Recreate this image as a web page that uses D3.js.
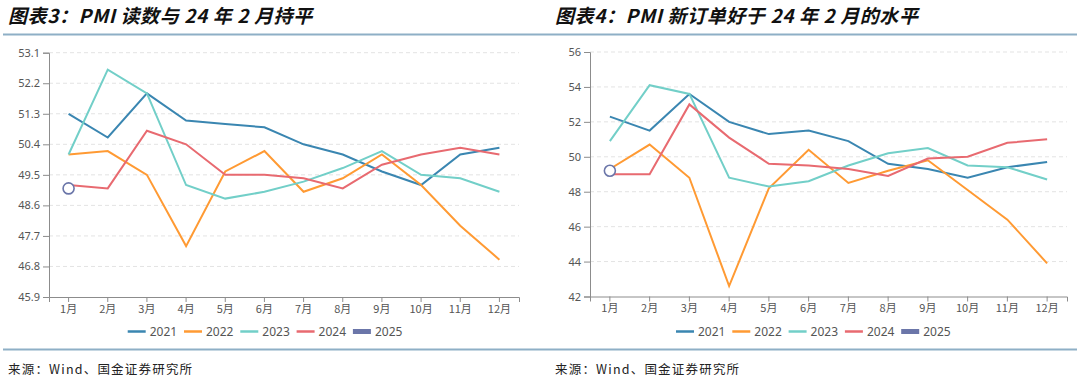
<!DOCTYPE html>
<html><head><meta charset="utf-8">
<script src="https://cdn.jsdelivr.net/npm/d3@7"></script>
<style>
html,body{margin:0;padding:0;background:#fff;}
svg{display:block;}
</style></head>
<body><svg id="c" width="1080" height="390"></svg>
<script>
const months = ["1月","2月","3月","4月","5月","6月","7月","8月","9月","10月","11月","12月"];
const seriesNames = ["2021","2022","2023","2024","2025"];
const seriesColors = ["#3a86b1","#ff9a33","#72cfc8","#e86a70","#6b76a9"];

// Chart 3: PMI
const pmi2021 = [51.3,50.6,51.9,51.1,51.0,50.9,50.4,50.1,49.6,49.2,50.1,50.3];
const pmi2022 = [50.1,50.2,49.5,47.4,49.6,50.2,49.0,49.4,50.1,49.2,48.0,47.0];
const pmi2023 = [50.1,52.6,51.9,49.2,48.8,49.0,49.3,49.7,50.2,49.5,49.4,49.0];
const pmi2024 = [49.2,49.1,50.8,50.4,49.5,49.5,49.4,49.1,49.8,50.1,50.3,50.1];
const pmi2025 = [49.1];
const pmiTicks = [45.9,46.8,47.7,48.6,49.5,50.4,51.3,52.2,53.1];

// Chart 4: PMI new orders
const no2021 = [52.3,51.5,53.6,52.0,51.3,51.5,50.9,49.6,49.3,48.8,49.4,49.7];
const no2022 = [49.3,50.7,48.8,42.6,48.2,50.4,48.5,49.2,49.8,48.1,46.4,43.9];
const no2023 = [50.9,54.1,53.6,48.8,48.3,48.6,49.5,50.2,50.5,49.5,49.4,48.7];
const no2024 = [49.0,49.0,53.0,51.1,49.6,49.5,49.3,48.9,49.9,50.0,50.8,51.0];
const no2025 = [49.2];
const noTicks = [42,44,46,48,50,52,54,56];

const titles = ["图表3：PMI 读数与 24 年 2 月持平","图表4：PMI 新订单好于 24 年 2 月的水平"];
const sourceText = "来源：Wind、国金证券研究所";

const svg = d3.select("#c");

// separators
[34.5, 349.5].forEach(y=>{
  svg.append("line").attr("x1",3).attr("x2",1077).attr("y1",y).attr("y2",y)
    .attr("stroke","#8eafc6").attr("stroke-width",2);
});

function panel(opt){
  const g = svg.append("g");
  // title
  g.append("text").attr("x",opt.titleX).attr("y",23).text(opt.title)
    .attr("font-family","'Noto Sans CJK SC'").attr("font-weight","bold")
    .attr("font-style","italic").attr("font-size",19).attr("letter-spacing",0.6).attr("fill","#111");
  // source
  g.append("text").attr("x",opt.titleX).attr("y",374).text(sourceText)
    .attr("font-family","'Noto Sans CJK SC'").attr("font-size",12.5)
    .attr("letter-spacing",1.2).attr("fill","#222");

  const x = d3.scaleBand().domain(months).range([opt.x0,opt.x1]);
  const y = d3.scaleLinear().domain([opt.ticks[0],opt.ticks[opt.ticks.length-1]]).range([opt.yb,opt.yt]);
  const cx = m => x(m)+x.bandwidth()/2;

  // grid
  g.selectAll(".grid").data(opt.ticks.slice(1)).join("line")
    .attr("x1",opt.x0).attr("x2",opt.x1)
    .attr("y1",d=>y(d)).attr("y2",d=>y(d))
    .attr("stroke","#e3e3e3").attr("stroke-dasharray","4,3");

  // y axis
  const ya = g.append("g").attr("transform",`translate(${opt.x0},0)`)
    .call(d3.axisLeft(y).tickValues(opt.ticks).tickSize(6).tickPadding(3).tickFormat(opt.fmt));
  ya.select(".domain").attr("stroke","#8c8c8c");
  ya.selectAll(".tick line").attr("stroke","#8c8c8c");
  ya.selectAll("text").attr("font-family","'Noto Sans'").attr("font-size",11).attr("fill","#555");

  // x axis
  const xa = g.append("g").attr("transform",`translate(0,${opt.yb})`)
    .call(d3.axisBottom(x).tickSize(5).tickPadding(3));
  xa.select(".domain").attr("stroke","#8c8c8c");
  xa.selectAll(".tick line").attr("stroke","#8c8c8c");
  xa.selectAll("text").attr("font-family","'Noto Sans CJK SC'").attr("font-size",11).attr("fill","#555");

  const line = d3.line().x((d,i)=>cx(months[i])).y(d=>y(d));
  opt.data.forEach((arr,k)=>{
    if(arr.length>1){
      g.append("path").attr("d",line(arr)).attr("fill","none")
        .attr("stroke",seriesColors[k]).attr("stroke-width",2);
    } else {
      g.append("circle").attr("cx",cx(months[0])).attr("cy",y(arr[0])).attr("r",5.5)
        .attr("fill","#fff").attr("stroke",seriesColors[k]).attr("stroke-width",1.6);
    }
  });

  // legend
  const lg = g.append("g").attr("transform",`translate(${opt.legendX},331.5)`);
  seriesNames.forEach((n,k)=>{
    const it = lg.append("g").attr("transform",`translate(${k*56.3},0)`);
    if(k<4){
      it.append("line").attr("x1",0).attr("x2",18).attr("y1",0).attr("y2",0)
        .attr("stroke",seriesColors[k]).attr("stroke-width",2.5);
    } else {
      it.append("rect").attr("x",0).attr("y",-2.5).attr("width",18).attr("height",5)
        .attr("fill",seriesColors[k]);
    }
    it.append("text").attr("x",22).attr("y",4.2).text(n)
      .attr("font-family","'Noto Sans'").attr("font-size",12).attr("fill","#555");
  });
}

panel({title:titles[0],titleX:8,x0:49,x1:519,yt:52.7,yb:297,ticks:pmiTicks,
  fmt:d3.format(".1f"),data:[pmi2021,pmi2022,pmi2023,pmi2024,pmi2025],legendX:127.7});
panel({title:titles[1],titleX:555,x0:590,x1:1067,yt:52,yb:296.5,ticks:noTicks,
  fmt:d3.format("d"),data:[no2021,no2022,no2023,no2024,no2025],legendX:676});
</script></body></html>
